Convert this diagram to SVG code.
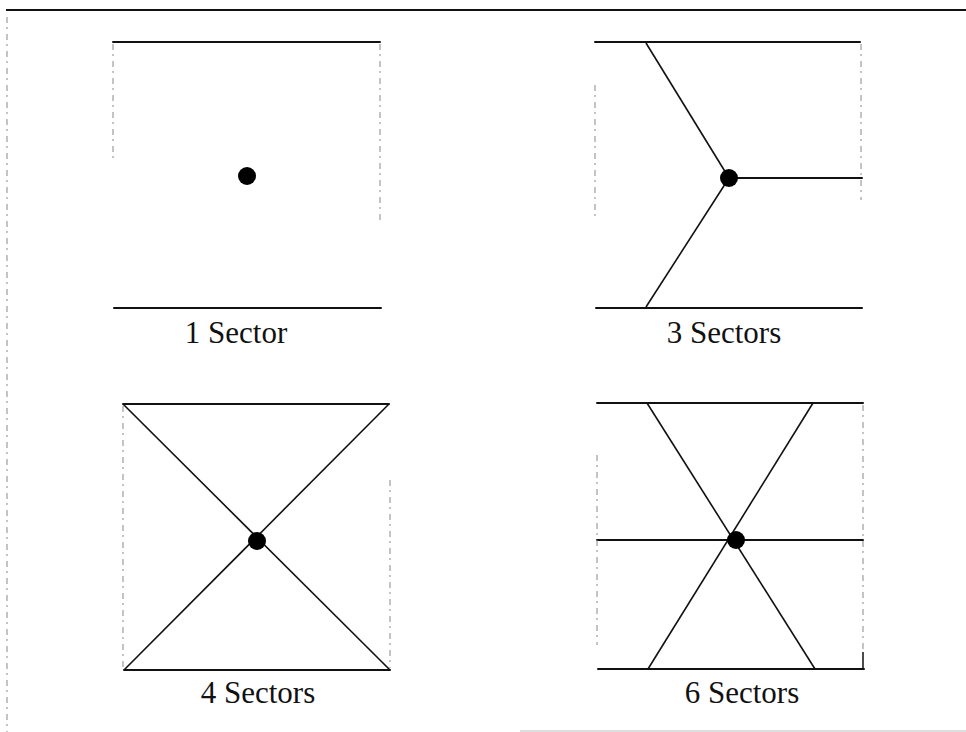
<svg xmlns="http://www.w3.org/2000/svg" width="966" height="732" viewBox="0 0 966 732">
<style>
.edge{stroke:#111;stroke-width:2;fill:none;stroke-linecap:round}
.ray{stroke:#111;stroke-width:1.6;fill:none}
.faint{stroke:#888;stroke-width:1;fill:none;stroke-dasharray:6 4 2 5}
.dot{fill:#000}
.lbl{font-family:"Liberation Serif","Times New Roman",serif;font-size:31px;fill:#111;text-anchor:middle}
</style>
<rect width="966" height="732" fill="#fff"/>
<g id="frame">
<line x1="6" y1="10" x2="966" y2="10" stroke="#111" stroke-width="2"/>
<line x1="7" y1="17" x2="7" y2="732" class="faint" stroke-width="1.3"/>
<line x1="520" y1="731" x2="966" y2="731" stroke="#bbb" stroke-width="1"/>
</g>
<g id="panel-1">
<line x1="113" y1="42" x2="380" y2="42" class="edge"/>
<line x1="114" y1="308" x2="381" y2="308" class="edge"/>
<line x1="113" y1="44" x2="113" y2="160" class="faint"/>
<line x1="380" y1="44" x2="380" y2="220" class="faint"/>
<circle cx="247" cy="176" r="9" class="dot"/>
<text x="236" y="343" class="lbl">1 Sector</text>
</g>
<g id="panel-3">
<line x1="595" y1="42" x2="860" y2="42" class="edge"/>
<line x1="596" y1="308" x2="862" y2="308" class="edge"/>
<line x1="595" y1="85" x2="595" y2="218" class="faint"/>
<line x1="861" y1="44" x2="861" y2="200" class="faint"/>
<line x1="646" y1="43" x2="729" y2="178" class="ray"/>
<line x1="646" y1="307" x2="729" y2="178" class="ray"/>
<line x1="729" y1="178" x2="862" y2="178" class="edge"/>
<circle cx="729" cy="178" r="9" class="dot"/>
<text x="724" y="343" class="lbl">3 Sectors</text>
</g>
<g id="panel-4">
<line x1="123" y1="404" x2="389" y2="404" class="edge"/>
<line x1="124" y1="670" x2="390" y2="670" class="edge"/>
<line x1="123" y1="406" x2="123" y2="668" class="faint"/>
<line x1="390" y1="480" x2="390" y2="668" class="faint"/>
<line x1="123" y1="404" x2="390" y2="670" class="ray"/>
<line x1="389" y1="404" x2="124" y2="670" class="ray"/>
<circle cx="257" cy="541" r="9" class="dot"/>
<text x="258" y="703" class="lbl">4 Sectors</text>
</g>
<g id="panel-6">
<line x1="597" y1="403" x2="863" y2="403" class="edge"/>
<line x1="598" y1="669" x2="864" y2="669" class="edge"/>
<line x1="597" y1="540" x2="863" y2="540" class="edge"/>
<line x1="597" y1="455" x2="597" y2="645" class="faint"/>
<line x1="863" y1="405" x2="863" y2="650" class="faint"/>
<line x1="863" y1="652" x2="863" y2="669" stroke="#111" stroke-width="1.5"/>
<line x1="647" y1="403" x2="815" y2="669" class="ray"/>
<line x1="813" y1="403" x2="648" y2="669" class="ray"/>
<circle cx="736" cy="540" r="9" class="dot"/>
<text x="742" y="703" class="lbl">6 Sectors</text>
</g>
</svg>
